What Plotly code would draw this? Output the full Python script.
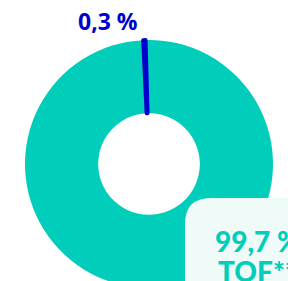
import plotly.graph_objects as go

labels = ["TOF**", "Autre"]
values = [99.7, 0.3]
colors = ["#00CDBA", "#0000CC"]
label_main_value = "99,7 %"
label_main_name = "TOF**"
label_small = "0,3 %"

W, H = 288, 300
cx, cy, r = 149, 164, 124  # pixel geometry from top-left

fig = go.Figure(go.Pie(
    labels=labels,
    values=values,
    hole=0.41,
    sort=False,
    direction="clockwise",
    rotation=-1.6,
    textinfo="none",
    hoverinfo="none",
    marker=dict(colors=colors, line=dict(color=colors, width=[0, 4])),
    domain=dict(x=[(cx - r) / W, (cx + r) / W],
                y=[(H - cy - r) / H, (H - cy + r) / H]),
    showlegend=False,
))

box_x0, box_y0 = 185, 198
fig.add_shape(type="path",
              path=(f"M {box_x0/W},{1-(box_y0+26)/H} "
                    f"Q {box_x0/W},{1-box_y0/H} {(box_x0+26)/W},{1-box_y0/H} "
                    f"L 1.2,{1-box_y0/H} L 1.2,-0.2 L {box_x0/W},-0.2 Z"),
              xref="paper", yref="paper", fillcolor="#EEFBF9", line=dict(width=0), layer="above")

teal_font = dict(family="Lato", size=28, color="#00CDBA", weight=900)
fig.add_annotation(x=213 / W, y=1 - 241 / H, xref="paper", yref="paper",
                   xanchor="left", yanchor="middle", showarrow=False,
                   text=label_main_value, font=teal_font)
fig.add_annotation(x=216 / W, y=1 - 271 / H, xref="paper", yref="paper",
                   xanchor="left", yanchor="middle", showarrow=False,
                   text=label_main_name, font=teal_font)
fig.add_annotation(x=76 / W, y=1 - 21 / H, xref="paper", yref="paper",
                   xanchor="left", yanchor="middle", showarrow=False,
                   text=f"<b>{label_small}</b>",
                   font=dict(family="Open Sans", size=23, color="#0000CC"))

fig.update_layout(width=W, height=H, margin=dict(l=0, r=0, t=0, b=0),
                  paper_bgcolor="white", plot_bgcolor="white")

fig.write_html("out.html", config={"displayModeBar": False},
               post_script="document.body.style.margin='0';document.body.style.overflow='hidden';document.documentElement.style.overflow='hidden';")
